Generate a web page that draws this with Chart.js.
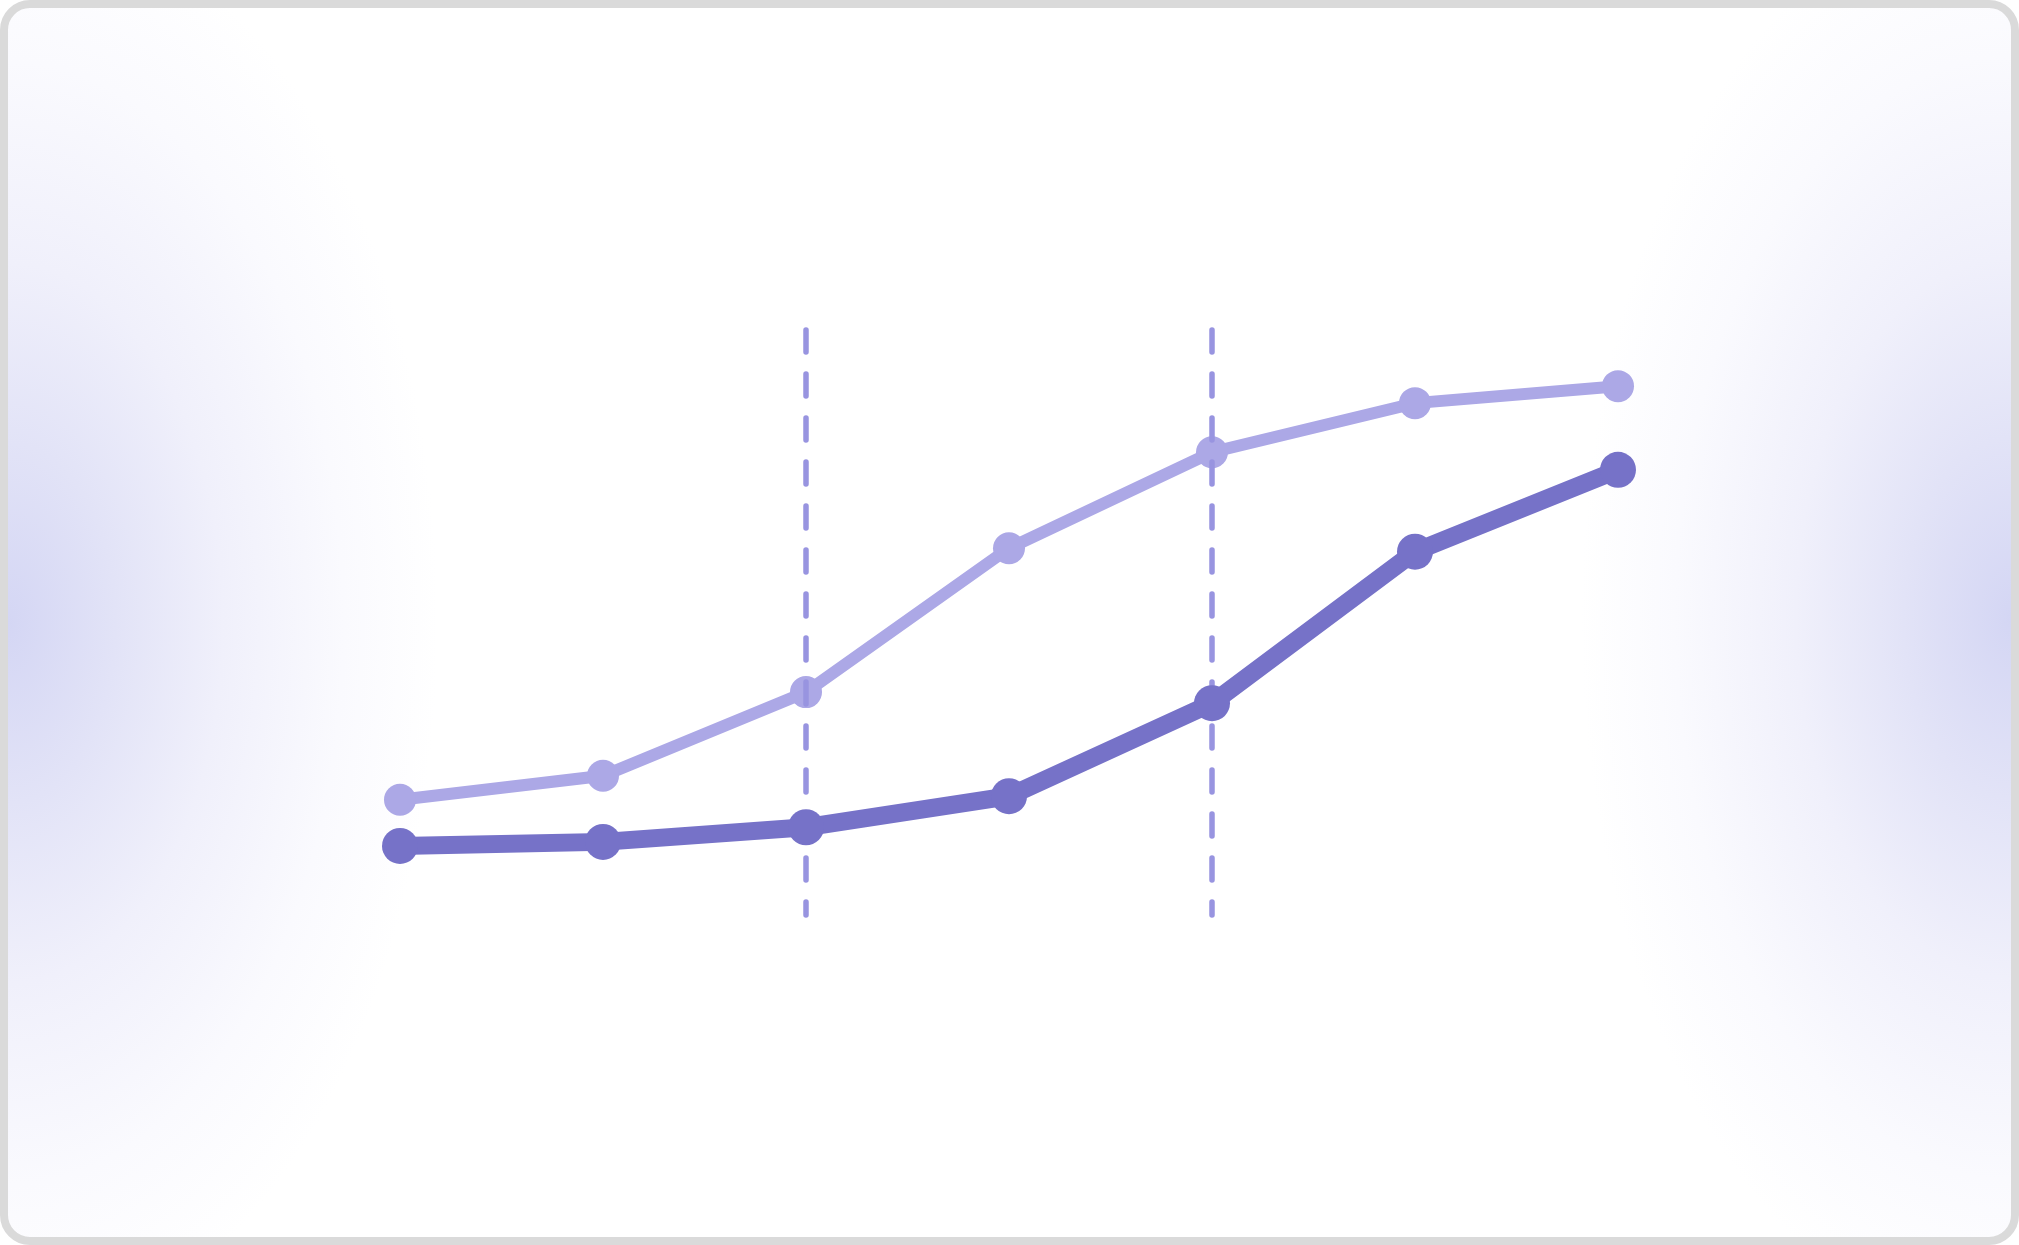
<!DOCTYPE html>
<html>
<head>
<meta charset="utf-8">
<script src="https://cdn.jsdelivr.net/npm/chart.js@4"></script>
<style>
  html, body { margin: 0; padding: 0; width: 2019px; height: 1245px; overflow: hidden; background: #fff; }
  .frame {
    position: absolute; left: 0; top: 0; width: 2019px; height: 1245px;
    box-sizing: border-box; border: 8px solid #dadada; border-radius: 30px;
    background:
      radial-gradient(ellipse 430px 720px at 0px 615px, rgba(212,214,244,1) 0%, rgba(226,227,247,1) 25%, rgba(240,240,251,1) 50%, rgba(250,250,254,1) 78%, rgba(255,255,255,0) 100%),
      radial-gradient(ellipse 430px 720px at 2003px 610px, rgba(212,214,244,1) 0%, rgba(226,227,247,1) 25%, rgba(240,240,251,1) 50%, rgba(250,250,254,1) 78%, rgba(255,255,255,0) 100%),
      #fff;
  }
  .wrap { position: absolute; left: 0; top: 0; width: 2019px; height: 1245px; }
</style>
</head>
<body>
<div class="frame"></div>
<div class="wrap"><canvas id="myChart" width="2019" height="1245"></canvas></div>
<script>
const categories = ['1', '2', '3', '4', '5', '6', '7'];
const upperSeries = [19.7, 23.8, 38.1, 62.7, 79.1, 87.5, 90.4];
const lowerSeries = [11.8, 12.5, 15.0, 20.3, 36.2, 62.1, 76.1];
const markerCategories = ['3', '5'];

const dashedMarkers = {
	id: 'dashedMarkers',
	afterDatasetDraw(chart, args) {
		// draw after the light line so the dark one sits on top
		if (args.index !== 1) return;
		const { ctx, chartArea, scales } = chart;
		ctx.save();
		ctx.strokeStyle = '#9894e0';
		ctx.lineWidth = 5.5;
		ctx.lineCap = 'round';
		ctx.setLineDash([22, 22]);
		markerCategories.forEach(c => {
			const x = scales.x.getPixelForValue(categories.indexOf(c));
			ctx.beginPath();
			ctx.moveTo(x, chartArea.top);
			ctx.lineTo(x, chartArea.bottom);
			ctx.stroke();
		});
		ctx.restore();
	}
};

const ctx = document.getElementById('myChart').getContext('2d');
let myChart = new Chart(ctx, {
	type: 'line',
	data: {
		labels: categories,
		datasets: [
			{
				label: 'lower',
				data: lowerSeries,
				borderColor: '#7672c8',
				backgroundColor: '#7672c8',
				borderWidth: 18,
				pointRadius: 18,
				pointBorderWidth: 0,
				pointBackgroundColor: '#7672c8',
				tension: 0,
				clip: false
			},
			{
				label: 'upper',
				data: upperSeries,
				borderColor: '#aca8e6',
				backgroundColor: '#aca8e6',
				borderWidth: 12,
				pointRadius: 16,
				pointBorderWidth: 0,
				pointBackgroundColor: '#aca8e6',
				tension: 0,
				clip: false
			}
		]
	},
	options: {
		responsive: false,
		animation: false,
		devicePixelRatio: 1,
		layout: { padding: { left: 400, right: 401, top: 330, bottom: 330 } },
		plugins: { legend: { display: false }, tooltip: { enabled: false } },
		scales: {
			x: { display: false, offset: false },
			y: { display: false, min: 0, max: 100 }
		}
	},
	plugins: [dashedMarkers]
});
</script>
</body>
</html>
